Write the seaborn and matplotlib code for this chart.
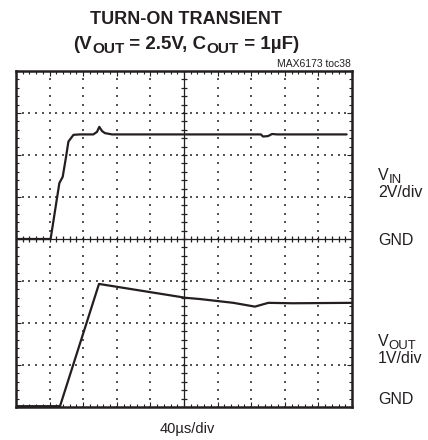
import numpy as np
import pandas as pd
import seaborn as sns
import matplotlib.pyplot as plt
from matplotlib.ticker import MultipleLocator
from matplotlib.transforms import IdentityTransform

# scope settings
US_PER_DIV = 40.0
VIN_V_PER_DIV = 2.0
VOUT_V_PER_DIV = 1.0
VIN_GND_DIV = 4.0
VOUT_GND_DIV = 0.0

# VIN trace (time in us, volts)
vin_time = [0, 41.2, 51.6, 55.6, 59.6, 62.4, 68.4, 76, 92, 96.4, 99.2, 102.4,
            106, 114.4, 291.6, 294, 300, 304.8, 310.8, 393.6]
vin_volts = [0, 0, 2.66, 2.96, 3.92, 4.64, 4.96, 4.98, 4.98, 5.1, 5.34, 5.14,
             5.04, 4.98, 4.98, 4.88, 4.9, 5.0, 4.98, 4.98]

# VOUT trace (time in us, volts)
vout_time = [0, 52.4, 98.8, 202, 219.2, 258.8, 284.4, 300.4, 330, 400]
vout_volts = [0.02, 0.02, 2.93, 2.60, 2.57, 2.48, 2.39, 2.48, 2.47, 2.48]

INK = "#231f20"

sns.set_style("white")
plt.rcParams["font.family"] = ["Liberation Sans", "DejaVu Sans"]

vin = pd.DataFrame({
    "x": np.array(vin_time) / US_PER_DIV,
    "y": np.array(vin_volts) / VIN_V_PER_DIV + VIN_GND_DIV,
})
vout = pd.DataFrame({
    "x": np.array(vout_time) / US_PER_DIV,
    "y": np.array(vout_volts) / VOUT_V_PER_DIV + VOUT_GND_DIV,
})

W, H = 428, 440
fig = plt.figure(figsize=(W / 100, H / 100), dpi=100)
ax = fig.add_axes([16 / W, (H - 407) / H, 336 / W, 336 / H])
ax.set_xlim(0, 10)
ax.set_ylim(0, 8)

# dotted graticule
minor_x = np.arange(0, 10.001, 0.2)
minor_y = np.arange(0, 8.001, 0.2)
gx, gy = [], []
for xv in range(1, 10):
    if xv == 5:
        continue
    gx += [xv] * len(minor_y)
    gy += list(minor_y)
for yv in range(1, 8):
    if yv == 4:
        continue
    gx += list(minor_x)
    gy += [yv] * len(minor_x)
ax.scatter(gx, gy, s=1.6, marker="s", color="#555555", linewidths=0, zorder=1)

# center cross with ticks
ax.axhline(4, color=INK, lw=0.9, zorder=2)
ax.axvline(5, color=INK, lw=0.9, zorder=2)
ax.plot(minor_x, np.full_like(minor_x, 4), ls="none", marker="|", ms=4,
        mew=0.9, color=INK, zorder=2)
ax.plot(np.full_like(minor_y, 5), minor_y, ls="none", marker="_", ms=4,
        mew=0.9, color=INK, zorder=2)

# traces
sns.lineplot(data=vin, x="x", y="y", ax=ax, color=INK, lw=1.6, sort=False,
             estimator=None, zorder=3)
sns.lineplot(data=vout, x="x", y="y", ax=ax, color=INK, lw=1.6, sort=False,
             estimator=None, zorder=3)

# frame
ax.xaxis.set_major_locator(MultipleLocator(1))
ax.yaxis.set_major_locator(MultipleLocator(1))
ax.xaxis.set_minor_locator(MultipleLocator(0.2))
ax.yaxis.set_minor_locator(MultipleLocator(0.2))
ax.tick_params(which="major", length=3.5)
ax.tick_params(which="minor", length=2)
ax.tick_params(which="both", direction="in", width=0.8, color=INK,
               top=True, right=True, bottom=True, left=True,
               labelbottom=False, labelleft=False)
ax.set_xlabel("")
ax.set_ylabel("")
for sp in ax.spines.values():
    sp.set_visible(True)
    sp.set_linewidth(1.8)
    sp.set_color(INK)

renderer = fig.canvas.get_renderer()


def rich_text(x_px, y_px, parts, size, weight="normal", ha="left"):
    """Draw runs of text with lowered, slightly smaller subscripts (pixel coords from top-left)."""
    arts = []
    total = 0
    for s, sub in parts:
        fs = size * 0.82 if sub else size
        t = fig.text(0, 0, s, fontsize=fs, fontweight=weight, color=INK,
                     ha="left", va="baseline", transform=IdentityTransform())
        w = t.get_window_extent(renderer).width
        arts.append((t, w, sub))
        total += w
    x0 = x_px - total / 2 if ha == "center" else x_px
    base = H - y_px
    for t, w, sub in arts:
        t.set_position((x0, base - (size * 0.3 if sub else 0)))
        x0 += w


# titles and labels
fig.text(186 / W, 1 - 20 / H, "TURN-ON TRANSIENT", ha="center", va="center",
         fontsize=13, fontweight="bold", color=INK)
rich_text(186, 49, [("(V", False), ("OUT", True), (" = 2.5V, C", False),
                    ("OUT", True), (" = 1µF)", False)], 13.5, "bold", "center")
fig.text(351 / W, 1 - 64 / H, "MAX6173 toc38", ha="right", va="center",
         fontsize=7.5, color=INK)

rich_text(378, 180, [("V", False), ("IN", True)], 11.5)
rich_text(378, 197, [("2V/div", False)], 11.5)
rich_text(378, 245, [("GND", False)], 11.5)
rich_text(378, 346, [("V", False), ("OUT", True)], 11.5)
rich_text(378, 363, [("1V/div", False)], 11.5)
rich_text(378, 404, [("GND", False)], 11.5)
fig.text(187 / W, 1 - 429 / H, "40µs/div", ha="center", va="center",
         fontsize=10.5, color=INK)

fig.savefig("out.png", dpi=100)
